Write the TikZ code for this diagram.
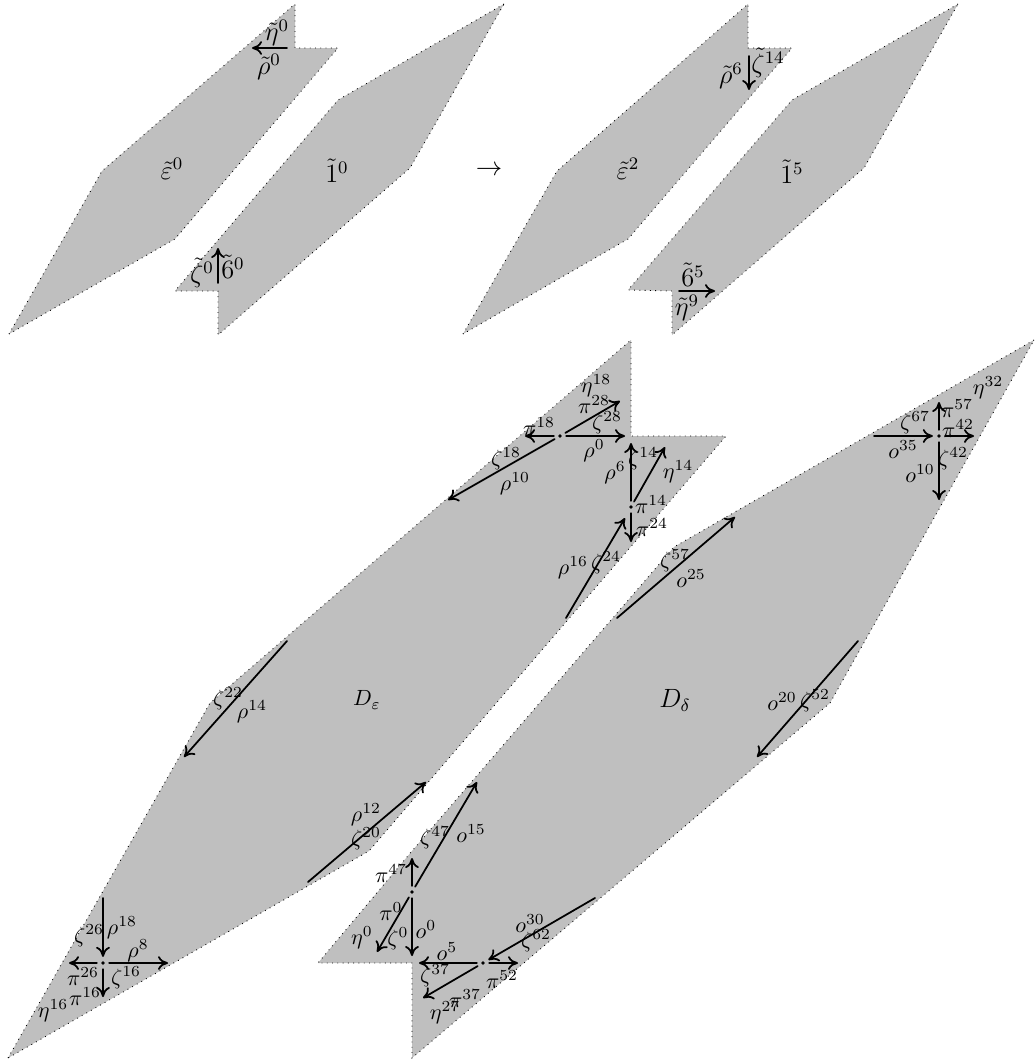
\documentclass[tikz,border=0pt]{standalone}
\usepackage{amsmath}
\usepackage{tikz}
\usetikzlibrary{arrows.meta}

\begin{document}
\begin{tikzpicture}[
    x=0.4545pt, y=-0.4545pt,
    region/.style={fill=gray!50, draw=black, dotted, line width=0.4pt},
    arr/.style={-{To[length=1.6mm,width=2.2mm]}, line width=0.8pt, line cap=round},
    dotv/.style={circle, fill=black, inner sep=0pt, minimum size=1.8pt, outer sep=1.9pt},
    lab/.style={inner sep=0pt, yshift=-0.5pt},
    labbig/.style={inner sep=0pt, font=\large},
  ]
  \useasboundingbox (0,0) rectangle (1034,1064);

  % small regions
  \draw[region] (9,334) -- (102,171) -- (295,4) -- (295,48) -- (338,48) -- (175,239) -- cycle;
  \draw[region] (504,4) -- (338,100) -- (218,240) -- (175,291) -- (218,291) -- (218,335) -- (410,168) -- cycle;
  \draw[region] (463,334) -- (557,171) -- (748,4) -- (748,48) -- (792,48) -- (628,239) -- cycle;
  \draw[region] (958,4) -- (792,100) -- (628,290) -- (672,291) -- (672,335) -- (864,168) -- cycle;

  % big regions
  \draw[region] (8,1058) -- (210,703) -- (631,340) -- (631,436) -- (726,436) -- (369,851) -- cycle;
  \draw[region] (1034,340) -- (674,547) -- (412,851) -- (318,963) -- (412,963) -- (412,1058) -- (830,703) -- cycle;

  \node[labbig] (arrowtop) at (489,171) {$\rightarrow$};

  \foreach \x/\y/\t [count=\i] in {
      172/169/\tilde{\varepsilon}^0, 337/171/\tilde{1}^0, 628/169/\tilde{\varepsilon}^2, 792/172/\tilde{1}^5,
      277/33/\tilde{\eta}^0, 269/67/\tilde{\rho}^0, 202/273/\tilde{\zeta}^0, 233/267/\tilde{6}^0,
      731/76/\tilde{\rho}^6, 768/63/\tilde{\zeta}^{14}, 693/275/\tilde{6}^5, 687/308/\tilde{\eta}^9,
      675/700/D_\delta}
    \node[labbig] (name\i) at (\x,\y) {$\t$};

  \node[lab] (domeps) at (367,699) {$D_\varepsilon$};

  \foreach \x/\y/\t [count=\i] in {
      596/385/\eta^{18}, 594/403/\pi^{28}, 607/422/\zeta^{28}, 539/425/\pi^{18}, 594/450/\rho^0,
      506/458/\zeta^{18}, 515/483/\rho^{10}, 615/472/\rho^6, 643/458/\zeta^{14}, 678/471/\eta^{14},
      651/503/\pi^{14}, 652/526/\pi^{24}, 573/567/\rho^{16}, 606/562/\zeta^{24}, 675/560/\zeta^{57},
      691/577/o^{25}, 988/387/\eta^{32}, 957/407/\pi^{57}, 915/422/\zeta^{67}, 958/427/\pi^{42},
      903/448/o^{35}, 953/458/\zeta^{42}, 920/472/o^{10}, 228/698/\zeta^{22}, 252/711/\rho^{14},
      782/700/o^{20}, 815/700/\zeta^{52}, 366/814/\rho^{12}, 366/838/\zeta^{20}, 435/837/\zeta^{47},
      471/832/o^{15}, 391/872/\pi^{47}, 391/910/\pi^0, 362/937/\eta^0, 398/938/\zeta^0,
      426/928/o^0, 447/950/o^5, 435/975/\zeta^{37}, 502/978/\pi^{52}, 530/922/o^{30},
      536/940/\zeta^{62}, 465/997/\pi^{37}, 445/1012/\eta^{27}, 89/935/\zeta^{26}, 122/927/\rho^{18},
      138/950/\rho^8, 83/975/\pi^{26}, 126/977/\zeta^{16}, 85/995/\pi^{16}, 53/1010/\eta^{16}}
    \node[lab] (lab\i) at (\x,\y) {$\t$};

  \node[dotv] (dota) at (560,436) {};
  \node[dotv] (dotb) at (631,507) {};
  \node[dotv] (dotc) at (939,436) {};
  \node[dotv] (dotd) at (412,892) {};
  \node[dotv] (dote) at (483,963) {};
  \node[dotv] (dotf) at (103,963) {};

  % arrows between free ends
  \foreach \n/\xa/\ya/\xb/\yb in {
      ua/287/48/252/48, ub/218/283/218/248, uc/749/56/749/90, ud/679/291/715/291,
      va/566/618/625/518, vb/617/618/735/517, vc/287/641/184/757, vd/858/641/757/757,
      ve/308/882/426/782}
    {
      \coordinate (\n s) at (\xa,\ya);
      \coordinate (\n e) at (\xb,\yb);
      \draw[arr] (\n s) -- (\n e);
    }

  % arrows leaving a dot
  \foreach \d/\n/\x/\y in {
      dota/pa/525/436, dota/pb/625/436, dota/pc/620/401, dota/pd/448/500,
      dotb/qa/631/443, dotb/qb/631/542, dotb/qc/665/447,
      dotc/ra/974/436, dotc/rb/939/402, dotc/rc/939/500,
      dotd/sa/412/858, dotd/sb/412/956, dotd/sc/377/952, dotd/sd/477/782,
      dote/ta/419/963, dote/tb/518/963, dote/tc/423/998,
      dotf/wa/69/963, dotf/wb/168/963, dotf/wc/103/997}
    {
      \coordinate (\n) at (\x,\y);
      \draw[arr] (\d) -- (\n);
    }

  % arrows reaching a dot
  \foreach \d/\n/\x/\y in {dotc/ya/874/436, dote/yb/595/898, dotf/yc/103/898}
    {
      \coordinate (\n) at (\x,\y);
      \draw[arr] (\n) -- (\d);
    }
\end{tikzpicture}
\end{document}
